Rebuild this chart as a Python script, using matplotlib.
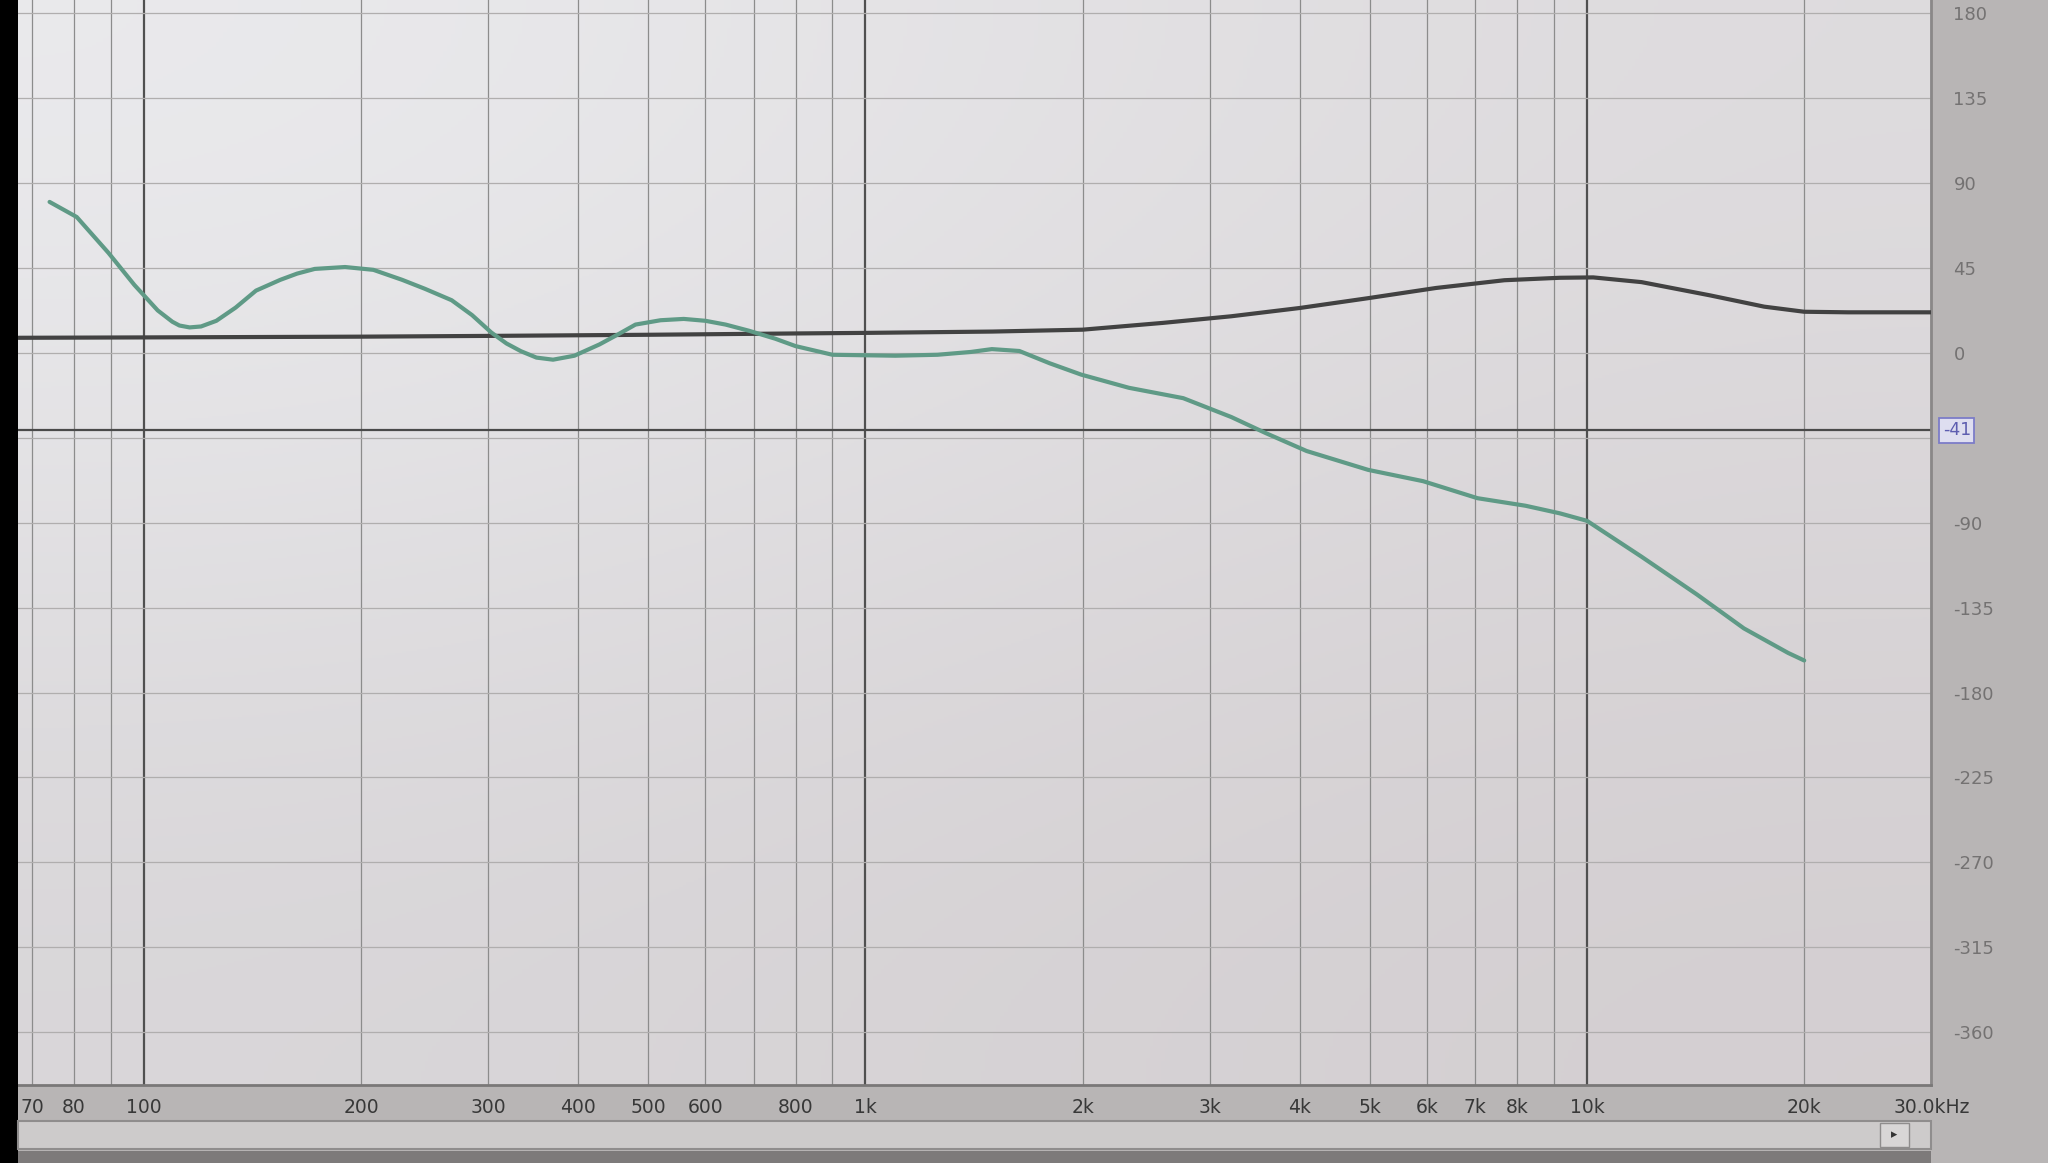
import matplotlib
matplotlib.use('Agg')
import matplotlib.pyplot as plt
import numpy as np
from matplotlib.patches import Rectangle

# phase response (Hz, degrees)
green_freq = [74, 80.7, 89.3, 97, 104.5, 109.5, 112, 115.7, 120, 126, 134, 143, 154.5, 163,
              172.5, 190, 208, 228, 245, 267, 285, 303, 318, 333, 350, 369, 395, 428, 455,
              480, 520, 560, 600, 640, 690, 750, 800, 900, 1100, 1258, 1400, 1497, 1634,
              1800, 1990, 2318, 2757, 3214, 3587, 4087, 4975, 5929, 7051, 8218, 9165, 10000,
              11900, 14200, 16500, 19000, 20000]
green_deg = [80, 72, 53, 36, 22.5, 16.5, 14.5, 13.5, 14, 17, 24, 33, 38.7, 42,
             44.5, 45.5, 44, 38.7, 34, 27.9, 20, 10.8, 5, 0.9, -2.5, -3.6, -1.5, 4.5, 10,
             15, 17.3, 18, 17, 15, 11.7, 7.5, 3.6, -1, -1.5, -1, 0.5, 2, 1,
             -5.5, -11.5, -18.5, -24, -34, -42.5, -52, -62, -68, -77, -81, -85, -89,
             -108, -128, -146, -159, -163]

dark_freq = [67, 100, 200, 300, 500, 800, 1000, 1500, 2000, 2584, 3213, 4000, 4975, 6177,
             7682, 9165, 10200, 11900, 14800, 17600, 20000, 23000, 30000]
dark_deg = [8, 8.2, 8.6, 9, 9.6, 10.3, 10.6, 11.3, 12.3, 15.9, 19.4, 23.8, 29, 34.4,
            38.5, 39.8, 40, 37.5, 30.5, 24.5, 21.8, 21.5, 21.5]

ref_level = -41

grid_freqs = [70, 80, 90, 100, 200, 300, 400, 500, 600, 700, 800, 900, 1000, 2000, 3000,
              4000, 5000, 6000, 7000, 8000, 9000, 10000, 20000, 30000]
decade_freqs = [100, 1000, 10000]
xtick_freqs = [70, 80, 100, 200, 300, 400, 500, 600, 800, 1000, 2000, 3000, 4000, 5000,
               6000, 7000, 8000, 10000, 20000, 30000]
xtick_labels = ['70', '80', '100', '200', '300', '400', '500', '600', '800', '1k', '2k', '3k',
                '4k', '5k', '6k', '7k', '8k', '10k', '20k', '30.0kHz']
ytick_vals = [180, 135, 90, 45, 0, -90, -135, -180, -225, -270, -315, -360]
hgrid_vals = [180, 135, 90, 45, 0, -45, -90, -135, -180, -225, -270, -315, -360]

plt.rcParams['font.family'] = ['DejaVu Sans']

fig = plt.figure(figsize=(20.48, 11.63), dpi=100, facecolor='#b8b5b5')
ax = fig.add_axes([0.009, 0.067, 0.934, 0.933])

# soft light-grey screen background
bg = np.array([[[0.92, 0.92, 0.93], [0.87, 0.86, 0.87]],
               [[0.85, 0.84, 0.85], [0.83, 0.81, 0.82]]])
ax.imshow(bg, extent=[0, 1, 0, 1], transform=ax.transAxes, aspect='auto',
          interpolation='bicubic', zorder=0)

ax.set_xscale('log')
ax.set_xlim(67, 30000)
ax.set_ylim(-388, 187)

for f in grid_freqs:
    if f in decade_freqs:
        ax.axvline(f, color='#505050', lw=1.6, zorder=1)
    else:
        ax.axvline(f, color='#8c8c8c', lw=0.9, zorder=1)
for v in hgrid_vals:
    ax.axhline(v, color='#b0aeae', lw=0.9, zorder=1)

ax.axhline(ref_level, color='#4a4a4a', lw=1.6, zorder=2)
ax.plot(dark_freq, dark_deg, color='#424242', lw=3.0, zorder=3, solid_capstyle='round')
ax.plot(green_freq, green_deg, color='#5f9a86', lw=3.0, zorder=4, solid_capstyle='round',
        solid_joinstyle='round')

ax.set_xticks(xtick_freqs, xtick_labels)
ax.xaxis.set_minor_locator(matplotlib.ticker.NullLocator())
ax.tick_params(axis='x', length=0, pad=9, labelsize=13.5, labelcolor='#383838')
ax.yaxis.tick_right()
ax.set_yticks(ytick_vals, [str(v) for v in ytick_vals])
ax.tick_params(axis='y', length=0, pad=16, labelsize=13, labelcolor='#747272')

# highlighted reference readout on the right scale
ax.text(1.006, ref_level, str(ref_level), transform=ax.get_yaxis_transform(),
        ha='left', va='center', fontsize=12.5, color='#5d5db0', zorder=5,
        bbox=dict(boxstyle='square,pad=0.2', fc='#dedef0', ec='#7c7cc8', lw=1.3))

for s in ['top', 'left']:
    ax.spines[s].set_visible(False)
ax.spines['right'].set_color('#8a8888')
ax.spines['right'].set_linewidth(2)
ax.spines['bottom'].set_color('#7a7878')
ax.spines['bottom'].set_linewidth(2)

# window chrome: black photo edge, scrollbar
fig.patches.append(Rectangle((0, 0), 0.009, 1, transform=fig.transFigure, fc='black', ec='none'))
fig.patches.append(Rectangle((0.009, 0.012), 0.934, 0.024, transform=fig.transFigure,
                             fc='#cdcbcb', ec='#8f8d8d', lw=1.5))
fig.patches.append(Rectangle((0.918, 0.014), 0.014, 0.020, transform=fig.transFigure,
                             fc='#d8d6d6', ec='#8f8d8d', lw=1))
fig.text(0.925, 0.024, '▸', ha='center', va='center', fontsize=9, color='#333333')
fig.patches.append(Rectangle((0.009, 0), 0.934, 0.01, transform=fig.transFigure,
                             fc='#7d7a7a', ec='none'))

fig.savefig('out.png', dpi=100, facecolor=fig.get_facecolor())
